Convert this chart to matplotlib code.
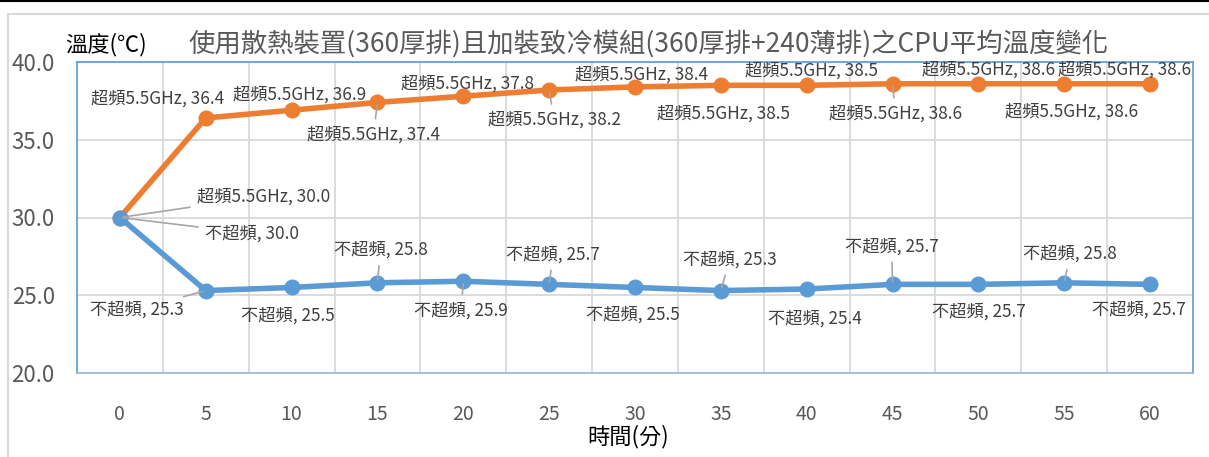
import numpy as np
import matplotlib
matplotlib.use('Agg')
import matplotlib.pyplot as plt
from matplotlib.lines import Line2D

plt.rcParams['font.family'] = ['Noto Sans CJK TC', 'DejaVu Sans']

# 資料
minutes = [0, 5, 10, 15, 20, 25, 30, 35, 40, 45, 50, 55, 60]
oc_temp = [30.0, 36.4, 36.9, 37.4, 37.8, 38.2, 38.4, 38.5, 38.5, 38.6, 38.6, 38.6, 38.6]
noc_temp = [30.0, 25.3, 25.5, 25.8, 25.9, 25.7, 25.5, 25.3, 25.4, 25.7, 25.7, 25.8, 25.7]
oc_name = '超頻5.5GHz'
noc_name = '不超頻'
y_ticks = [20.0, 25.0, 30.0, 35.0, 40.0]

title = '使用散熱裝置(360厚排)且加裝致冷模組(360厚排+240薄排)之CPU平均溫度變化'

# 標籤位置 (像素偏移, 上為正)
oc_off = [(77, 21), (-48, 19), (8, 16), (-4, -32), (4, 13), (5, -30), (6, 12),
          (3, -28), (5, 15), (3, -30), (10, 14), (7, -28), (-26, 14)]
noc_off = [(85, -16), (-69, -19), (-4, -28), (3, 33), (-2, -29), (4, 30), (-2, -27),
           (9, 31), (8, -30), (-1, 38), (0, -27), (6, 29), (-11, -25)]
oc_leader = [0, 3, 5, 9]
noc_leader = [0, 1, 3, 4, 5, 7, 9, 11]

ORANGE = '#ED7D31'
BLUE = '#5B9BD5'
GRID = '#D9D9D9'
LABEL = '#404040'

fig = plt.figure(figsize=(12.09, 4.57), dpi=100)
ax = fig.add_axes([77 / 1209, 1 - 373 / 457, (1193 - 77) / 1209, (373 - 62) / 457])

x = np.arange(len(minutes))
ax.plot(x, oc_temp, color=ORANGE, lw=4, marker='o', ms=10.5, zorder=3)
ax.plot(x, noc_temp, color=BLUE, lw=4, marker='o', ms=10.5, zorder=3)

def add_labels(vals, name, offs, leaders):
    for i, v in enumerate(vals):
        dx, dy = offs[i]
        ha = 'center'
        if i == 0:
            ha = 'left'
        ap = None
        if i in leaders:
            ap = dict(arrowstyle='-', color='#A6A6A6', lw=1.2, shrinkA=3, shrinkB=2)
        ax.annotate('%s, %.1f' % (name, v), (x[i], v), xytext=(dx, dy),
                    textcoords='offset pixels', ha=ha, va='center',
                    fontsize=12.4, color=LABEL, arrowprops=ap, zorder=4)

add_labels(oc_temp, oc_name, oc_off, oc_leader)
add_labels(noc_temp, noc_name, noc_off, noc_leader)

ax.set_xlim(-0.5, len(minutes) - 0.5)
ax.set_ylim(20, 40)
ax.set_xticks(x)
ax.set_xticklabels([str(m) for m in minutes])
ax.set_xticks(x[:-1] + 0.5, minor=True)
ax.set_yticks(y_ticks)
ax.set_yticklabels(['%.1f' % t for t in y_ticks])
ax.tick_params(axis='x', which='both', length=0, pad=22, labelsize=14, labelcolor='#595959')
ax.tick_params(axis='y', length=0, pad=16, labelsize=16, labelcolor='#595959')
ax.grid(axis='x', which='minor', color=GRID, lw=1.3)
ax.grid(axis='y', which='major', color=GRID, lw=1.3)
ax.set_axisbelow(True)
for s in ['left', 'top', 'right']:
    ax.spines[s].set_color(BLUE)
    ax.spines[s].set_linewidth(1.2)
ax.spines['bottom'].set_color('#9DB5D9')
ax.spines['bottom'].set_linewidth(1.2)

fig.text(648 / 1209, 1 - 44 / 457, title, ha='center', va='center', fontsize=19, color='#595959')
fig.text(65 / 1209, 1 - 45 / 457, '溫度(℃)', ha='left', va='center', fontsize=16, color='black')
fig.text(628 / 1209, 1 - 437 / 457, '時間(分)', ha='center', va='center', fontsize=16, color='black')

# 外框
fig.add_artist(Line2D([0, 1], [0.998, 0.998], color='black', lw=1.5, transform=fig.transFigure))
fig.add_artist(Line2D([8 / 1209, 1], [1 - 14 / 457, 1 - 14 / 457], color=GRID, lw=1.5,
                      transform=fig.transFigure))
fig.add_artist(Line2D([8 / 1209, 8 / 1209], [0, 1 - 14 / 457], color=GRID, lw=1.5,
                      transform=fig.transFigure))

fig.savefig('out.png', dpi=100)
